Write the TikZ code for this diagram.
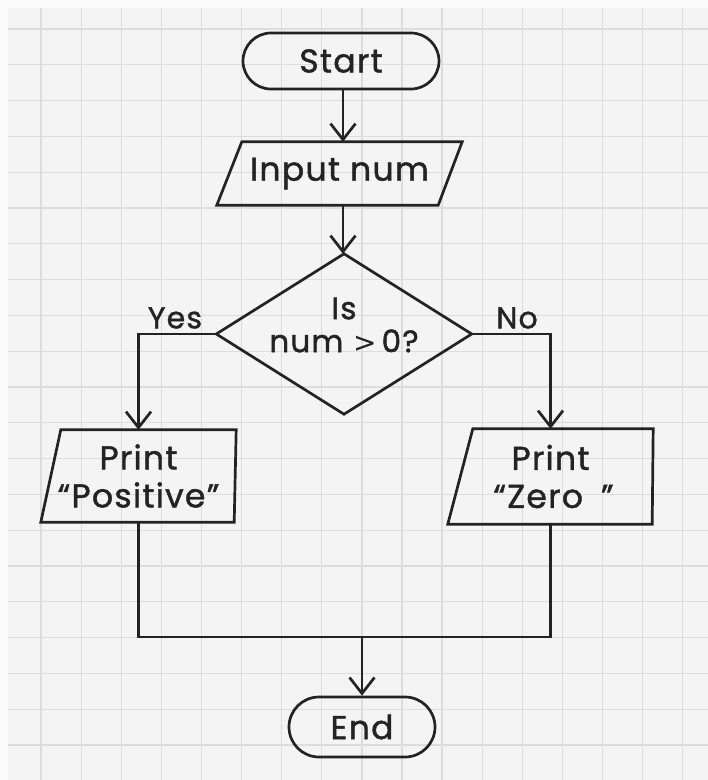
\documentclass[tikz,border=0pt]{standalone}
\usepackage{fontspec}
\setmainfont{Poppins}
\newfontfamily\symfont{DejaVu Sans}
\usetikzlibrary{arrows.meta,calc}
\definecolor{paper}{HTML}{F4F4F4}
\definecolor{band}{HTML}{FBFBFB}
\definecolor{gridc}{HTML}{DDDDDD}
\definecolor{ink}{HTML}{232323}
\newcommand{\handfont}[2]{\fontsize{#1}{#2}\selectfont\addfontfeatures{FakeBold=1.3,LetterSpace=4}}
\tikzset{
  gridline/.style={gridc, line width=1.3pt},
  outline/.style={ink, line width=2.7pt, line join=miter},
  flow/.style={ink, line width=2.7pt, -{Straight Barb[length=16pt,width=25pt]}},
  joinline/.style={ink, line width=2.7pt},
  txt/.style={text=ink, font=\handfont{33}{38}, align=center, inner sep=0pt},
  terminal/.style={txt, draw=ink, line width=2.7pt, rounded corners=#1},
  plainbox/.style={txt, draw=none},
  branchlabel/.style={text=ink, font=\handfont{30}{34}, inner sep=0pt}
}
\begin{document}
\begin{tikzpicture}[x=1pt, y=-1pt]
\useasboundingbox (0,0) rectangle (708,780);
% squared paper
\fill[band] (0,0) rectangle (708,780);
\fill[paper] (8,8) rectangle (708,780);
\foreach \i in {1,...,17} \draw[gridline] ({1+40.1*\i},8) -- ({1+40.1*\i},780);
\foreach \j in {0,...,20} \draw[gridline] (8,{29+35.8*\j}) -- (708,{29+35.8*\j});

% terminals
\node[terminal=28pt, minimum width=196pt, minimum height=56pt] (start) at (341,61) {Start};
\node[terminal=30pt, minimum width=146pt, minimum height=60pt] (end) at (362,727) {End};

% input
\node[plainbox, minimum width=245pt, minimum height=63pt] (in) at (339.5,173.5) {Input num};
\draw[outline] ($(in.north west)+(25,0)$) -- (in.north east) -- ($(in.south east)+(-24,0)$) -- (in.south west) -- cycle;

% decision
\node[plainbox, minimum width=255pt, minimum height=160pt] (dec) at (344,334) {};
\draw[outline] (dec.north) -- (dec.east) -- (dec.south) -- (dec.west) -- cycle;
\node[txt, font=\handfont{31}{33}] (q) at (344,325) {Is\\num {\symfont\fontsize{28}{33}\selectfont >}\,0?};

% outputs
\node[plainbox, minimum width=195pt, minimum height=92pt] (pos) at (138.5,476) {Print\\“Positive”};
\draw[outline] ($(pos.north west)+(20,0)$) -- (pos.north east) -- ($(pos.south east)+(-2,0)$) -- (pos.south west) -- cycle;
\node[plainbox, minimum width=205pt, minimum height=95pt] (zero) at (550.5,476.5) {Print\\\hspace*{6pt}“Zero\hspace{18pt}”};
\draw[outline] ($(zero.north west)+(25,0)$) -- (zero.north east) -- ($(zero.south east)+(-1,0)$) -- (zero.south west) -- cycle;

% connectors
\draw[flow] (start.south -| 343,0) -- (in.north -| 343,0);
\draw[flow] (in.south -| 343,0) -- (dec.north -| 343,0);
\draw[flow] (dec.west) -| (pos.north);
\draw[flow] (dec.east) -| (zero.north);
\coordinate (j) at (end.north |- 0,637);
\draw[joinline] (pos.south) |- (zero.south |- j) -- (zero.south);
\draw[flow] (j) -- (end.north);

% branch labels
\node[branchlabel] (yes) at (175,318) {Yes};
\node[branchlabel] (no) at (517,318) {No};
\end{tikzpicture}
\end{document}
